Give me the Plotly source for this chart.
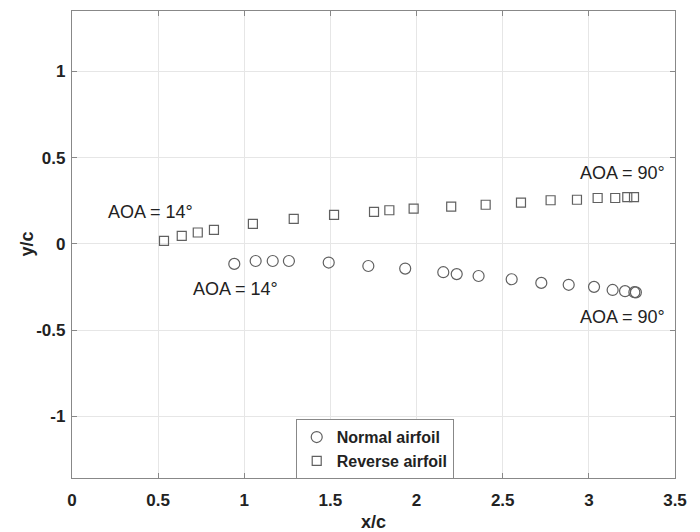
import plotly.graph_objects as go

# Normal airfoil (circles)
normal_x = [0.942, 1.066, 1.165, 1.259, 1.490, 1.720, 1.934, 2.155, 2.233, 2.360,
            2.552, 2.724, 2.883, 3.030, 3.138, 3.210, 3.264, 3.273]
normal_y = [-0.116, -0.099, -0.099, -0.099, -0.108, -0.128, -0.143, -0.164, -0.175, -0.186,
            -0.205, -0.226, -0.237, -0.249, -0.267, -0.274, -0.280, -0.281]

# Reverse airfoil (squares)
reverse_x = [0.534, 0.637, 0.730, 0.824, 1.050, 1.287, 1.521, 1.753, 1.842, 1.983,
             2.201, 2.401, 2.606, 2.778, 2.931, 3.051, 3.153, 3.223, 3.262]
reverse_y = [0.017, 0.046, 0.066, 0.081, 0.116, 0.145, 0.168, 0.186, 0.195, 0.204,
             0.216, 0.227, 0.239, 0.253, 0.256, 0.266, 0.266, 0.271, 0.271]

x_ticks = [0, 0.5, 1, 1.5, 2, 2.5, 3, 3.5]
x_tick_labels = ["0", "0.5", "1", "1.5", "2", "2.5", "3", "3.5"]
y_ticks = [-1, -0.5, 0, 0.5, 1]
y_tick_labels = ["-1", "-0.5", "0", "0.5", "1"]

ann_text = ["AOA = 14°", "AOA = 14°", "AOA = 90°", "AOA = 90°"]
ann_x = [0.453, 0.951, 3.198, 3.198]
ann_y = [0.186, -0.262, 0.411, -0.421]

FONT = "Liberation Sans, Arial, sans-serif"
MARK = "#606060"

fig = go.Figure()
fig.add_trace(go.Scatter(x=normal_x, y=normal_y, mode="markers", name="Normal airfoil",
                         marker=dict(symbol="circle-open", size=11, color=MARK,
                                     line=dict(width=1.2, color=MARK))))
fig.add_trace(go.Scatter(x=reverse_x, y=reverse_y, mode="markers", name="Reverse airfoil",
                         marker=dict(symbol="square-open", size=9, color=MARK,
                                     line=dict(width=1.2, color=MARK))))

for t, ax, ay in zip(ann_text, ann_x, ann_y):
    fig.add_annotation(x=ax, y=ay, text=t, showarrow=False, xanchor="center", yanchor="middle",
                       font=dict(family=FONT, size=18, color="#222"))

# y-axis title as rotated annotation for exact placement
fig.add_annotation(text="y/c", xref="paper", yref="paper", x=0, y=0.5, xshift=-46,
                   textangle=-90, showarrow=False, xanchor="center", yanchor="middle",
                   font=dict(family=FONT, size=18, color="#222", weight="bold"))

axis_common = dict(showline=True, linecolor="#888", linewidth=1.3, mirror="ticks",
                   ticks="inside", ticklen=5, tickcolor="#888", automargin=False,
                   showgrid=True, gridcolor="#e6e6e6", gridwidth=1, zeroline=False,
                   tickfont=dict(family=FONT, size=17, color="#222", weight="bold"))

fig.update_xaxes(range=[0, 3.5], tickvals=x_ticks, ticktext=x_tick_labels,
                 ticklabelstandoff=6,
                 title=dict(text="x/c", font=dict(family=FONT, size=18, color="#222", weight="bold"),
                            standoff=9), **axis_common)
fig.update_yaxes(range=[-1.357, 1.35], tickvals=y_ticks, ticktext=y_tick_labels,
                 ticklabelstandoff=2, **axis_common)

fig.update_layout(
    width=700, height=532,
    margin=dict(l=72, r=25, t=11, b=54),
    plot_bgcolor="white", paper_bgcolor="white",
    showlegend=True,
    legend=dict(x=0.371, y=0.126, xanchor="left", yanchor="top",
                bgcolor="white", bordercolor="#888", borderwidth=1,
                font=dict(family=FONT, size=16, color="#222", weight="bold"),
                tracegroupgap=0, itemwidth=30),
)

fig.write_html("out.html")
